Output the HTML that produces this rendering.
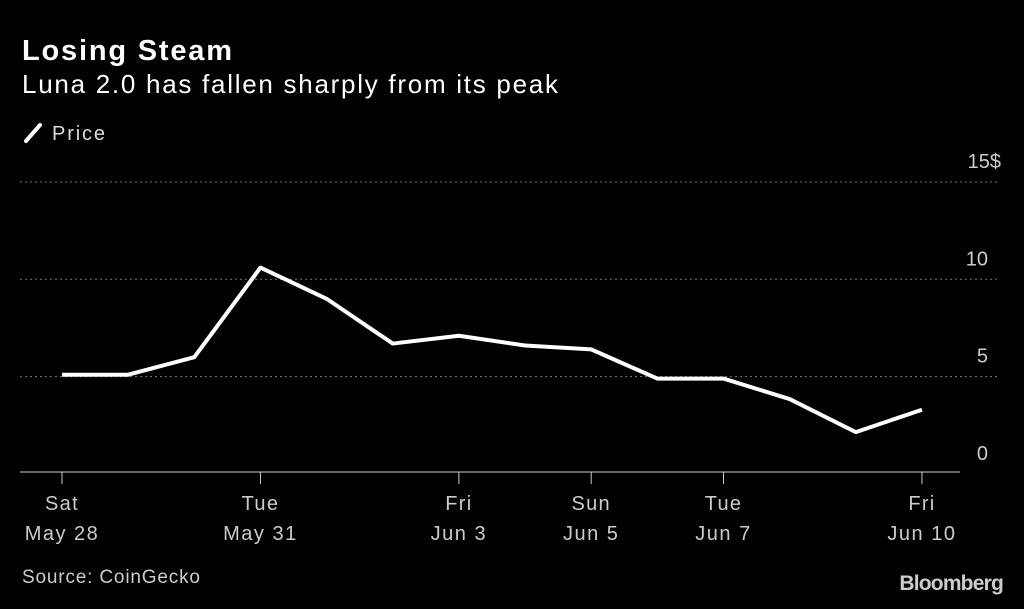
<!DOCTYPE html>
<html><head><meta charset="utf-8"><style>
body{margin:0;background:#000;width:1024px;height:604px;overflow:hidden;font-family:"Liberation Sans",sans-serif;color:#fff}
</style></head><body>
<svg width="1024" height="604" viewBox="0 0 1024 604">
<text x="22" y="60" font-size="29" font-weight="bold" fill="#fff" textLength="210" lengthAdjust="spacing">Losing Steam</text>
<text x="22" y="93" font-size="26" fill="#fff" textLength="536" lengthAdjust="spacing">Luna 2.0 has fallen sharply from its peak</text>
<g>
<line x1="26" y1="141" x2="40" y2="125" stroke="#fff" stroke-width="4" stroke-linecap="round"/>
<text x="52" y="140" font-size="20" fill="#ddd" textLength="53" lengthAdjust="spacing">Price</text>
</g>
<g id="grid"></g><g id="xaxis"></g>
<path id="line" fill="none" stroke="#fff" stroke-width="4" stroke-linejoin="round"/>
<text x="22" y="583" font-size="19" fill="#ccc" textLength="178" lengthAdjust="spacing">Source: CoinGecko</text>
<text x="1003" y="590" font-size="21" font-weight="bold" fill="#ccc" text-anchor="end" letter-spacing="-0.8">Bloomberg</text>
</svg>
<script>
const values=[5.1,5.1,6.0,10.6,9.0,6.7,7.1,6.6,6.4,4.9,4.9,3.85,2.15,3.3];
const yTicks=[0,5,10,15];
const yTickLabels=["0","5","10","15$"];
const xTickDays=[0,3,6,8,10,13];
const xTickTop=["Sat","Tue","Fri","Sun","Tue","Fri"];
const xTickBottom=["May 28","May 31","Jun 3","Jun 5","Jun 7","Jun 10"];
const X=d=>62+d*66.15, Y=v=>474-v*19.47;
const ns="http://www.w3.org/2000/svg";
const g=document.getElementById('grid'), xa=document.getElementById('xaxis');
function mk(tag,a,p){const e=document.createElementNS(ns,tag);for(const k in a)e.setAttribute(k,a[k]);p.appendChild(e);return e;}
yTicks.forEach((t,i)=>{
 if(t>0){const l=mk('line',{x1:20,x2:1000,y1:Y(t),y2:Y(t),stroke:'#777','stroke-width':1,'stroke-dasharray':'2,3'},g);
 
 }
 const tx=mk('text',{x:988,y:Y(t)-14,'font-size':20,fill:'#ccc','text-anchor':'end'},g);
 if(t===15){tx.setAttribute('x',1001);}
 tx.textContent=yTickLabels[i];
 
 
});
const base=mk('line',{x1:20,x2:960,y1:472,y2:472,stroke:'#ccc','stroke-width':1},xa);


xTickDays.forEach((d,i)=>{
 const t=mk('line',{x1:X(d),x2:X(d),y1:472,y2:484,stroke:'#ccc','stroke-width':1},xa);
 
 
 const a=mk('text',{x:X(d),y:510,'font-size':20,fill:'#ccc','text-anchor':'middle','letter-spacing':1.3},xa);a.textContent=xTickTop[i];
 
 
 const b=mk('text',{x:X(d),y:540,'font-size':20,fill:'#ccc','text-anchor':'middle','letter-spacing':1.5},xa);b.textContent=xTickBottom[i];
 
 
});
document.getElementById('line').setAttribute('d',values.map((v,i)=>(i?'L':'M')+X(i)+','+Y(v)).join(''));
</script>
</body></html>
